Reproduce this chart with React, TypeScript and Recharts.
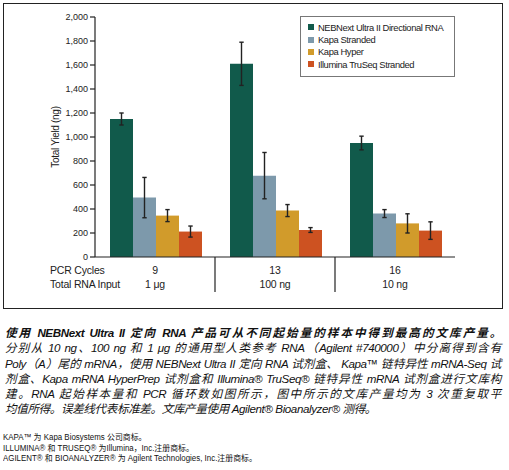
import React from "react";
import { Bar, BarChart, ErrorBar, XAxis, YAxis } from "recharts";

const cycles = ["9", "13", "16"];
const rnaInput = ["1 μg", "100 ng", "10 ng"];

const nebnext = [1150, 1610, 950];
const nebnextErr = [50, 180, 57];
const kapaStranded = [495, 678, 362];
const kapaStrandedErr = [168, 193, 33];
const kapaHyper = [345, 387, 280];
const kapaHyperErr = [50, 50, 80];
const truseq = [212, 225, 220];
const truseqErr = [46, 20, 73];

const yTicks = [0, 200, 400, 600, 800, 1000, 1200, 1400, 1600, 1800, 2000];

const seriesNames = [
  "NEBNext Ultra II Directional RNA",
  "Kapa Stranded",
  "Kapa Hyper",
  "Illumina TruSeq Stranded",
];
const colors = ["#115a4b", "#7d99ab", "#d19b2b", "#cd5221"];

const data = cycles.map((c, i) => ({
  cycles: c,
  input: rnaInput[i],
  nebnext: nebnext[i],
  nebnextErr: nebnextErr[i],
  kapaStranded: kapaStranded[i],
  kapaStrandedErr: kapaStrandedErr[i],
  kapaHyper: kapaHyper[i],
  kapaHyperErr: kapaHyperErr[i],
  truseq: truseq[i],
  truseqErr: truseqErr[i],
}));

const keys = ["nebnext", "kapaStranded", "kapaHyper", "truseq"];

const SANS = "'Liberation Sans', Arial, sans-serif";
const CJK = "'Liberation Sans', 'Noto Sans CJK SC', sans-serif";

// layout of the plot area
const PLOT_LEFT = 95;
const PLOT_RIGHT = 455;
const AXIS_Y = 257;
const BAND = (PLOT_RIGHT - PLOT_LEFT) / cycles.length;

function CategoryTick(props: any) {
  const { x, index } = props;
  const row = data[index];
  return (
    <g fontFamily={SANS} fontSize={10.5} fill="#222" letterSpacing={-0.2}>
      {index === 0 && (
        <>
          <text x={50} y={274} textAnchor="start">PCR Cycles</text>
          <text x={50} y={288} textAnchor="start">Total RNA Input</text>
        </>
      )}
      {index > 0 && (
        <line x1={x - BAND / 2} x2={x - BAND / 2} y1={AXIS_Y} y2={292} stroke="#222" strokeWidth={1.2} />
      )}
      <text x={x} y={274} textAnchor="middle">{row.cycles}</text>
      <text x={x} y={288} textAnchor="middle">{row.input}</text>
    </g>
  );
}

function LegendBox() {
  return (
    <div
      style={{
        position: "absolute",
        left: 300,
        top: 16,
        border: "1.5px solid #777",
        boxSizing: "border-box",
        width: 155,
        height: 61,
        padding: "4px 0 0 7px",
        fontFamily: SANS,
        fontSize: 9.4,
        letterSpacing: -0.4,
        color: "#222",
        background: "#fff",
        whiteSpace: "nowrap",
      }}
    >
      {seriesNames.map((n, i) => (
        <div key={n} style={{ display: "flex", alignItems: "center", height: 12.4 }}>
          <span style={{ width: 6, height: 6, background: colors[i], marginRight: 4, display: "inline-block" }} />
          <span>{n}</span>
        </div>
      ))}
    </div>
  );
}

const captionLines = [
  "分别从 10 ng、100 ng 和 1 μg 的通用型人类参考 RNA（Agilent #740000）中分离得到含有",
  "Poly（A）尾的 mRNA，使用 NEBNext Ultra II 定向 RNA 试剂盒、 Kapa™ 链特异性 mRNA-Seq 试",
  "剂盒、Kapa mRNA HyperPrep 试剂盒和 Illumina® TruSeq® 链特异性 mRNA 试剂盒进行文库构",
  "建。RNA 起始样本量和 PCR 循环数如图所示，图中所示的文库产量均为 3 次重复取平",
];
const captionLast = "均值所得。误差线代表标准差。文库产量使用 Agilent® Bioanalyzer® 测得。";
const footnotes = [
  "KAPA™ 为 Kapa Biosystems 公司商标。",
  "ILLUMINA® 和 TRUSEQ® 为Illumina，Inc.注册商标。",
  "AGILENT® 和 BIOANALYZER® 为 Agilent Technologies, Inc.注册商标。",
];

const justified: React.CSSProperties = {
  textAlign: "justify",
  textAlignLast: "justify",
  whiteSpace: "nowrap",
  height: 15.3,
};

export default function App() {
  return (
    <div style={{ position: "absolute", left: 0, top: 0, width: 509, height: 470, background: "#fff" }}>
      <div
        style={{
          position: "absolute",
          left: 3,
          top: 3,
          width: 500,
          height: 306,
          border: "1.5px solid #222",
          boxSizing: "border-box",
        }}
      />
      <div style={{ position: "absolute", left: 0, top: 0 }}>
        <BarChart
          width={509}
          height={310}
          data={data}
          margin={{ top: 17, right: 509 - PLOT_RIGHT, bottom: 13, left: PLOT_LEFT - 50 }}
          barCategoryGap="12.5%"
          barGap={0}
        >
          <XAxis
            dataKey="cycles"
            height={40}
            tickLine={false}
            axisLine={{ stroke: "#222", strokeWidth: 1.2 }}
            tick={<CategoryTick />}
            interval={0}
          />
          <YAxis
            width={50}
            domain={[0, 2000]}
            ticks={yTicks}
            interval={0}
            tickSize={5}
            tickLine={{ stroke: "#222", strokeWidth: 1.2 }}
            axisLine={{ stroke: "#222", strokeWidth: 1.2 }}
            tickFormatter={(v: number) => v.toLocaleString("en-US")}
            tick={{ fontFamily: SANS, fontSize: 9, fill: "#222" }}
            label={{
              value: "Total Yield (ng)",
              angle: -90,
              position: "insideLeft",
              offset: 10,
              style: { fontFamily: SANS, fontSize: 10, letterSpacing: -0.3, fill: "#222", textAnchor: "middle" },
            }}
          />
          {keys.map((k, i) => (
            <Bar key={k} dataKey={k} name={seriesNames[i]} fill={colors[i]} isAnimationActive={false}>
              <ErrorBar dataKey={`${k}Err`} width={2.2} stroke="#222" strokeWidth={1.4} />
            </Bar>
          ))}
        </BarChart>
      </div>
      <LegendBox />
      <div
        style={{
          position: "absolute",
          left: 5,
          top: 325,
          width: 496,
          fontFamily: CJK,
          fontSize: 11.6,
          letterSpacing: -0.4,
          fontStyle: "italic",
          color: "#111",
          lineHeight: "15.3px",
        }}
      >
        <div style={{ ...justified, fontWeight: "bold" }}>
          使用 NEBNext Ultra II 定向 RNA 产品可从不同起始量的样本中得到最高的文库产量。
        </div>
        {captionLines.map((l) => (
          <div key={l} style={justified}>
            {l}
          </div>
        ))}
        <div style={{ whiteSpace: "nowrap", height: 15.3 }}>{captionLast}</div>
      </div>
      <div
        style={{
          position: "absolute",
          left: 3,
          top: 432,
          fontFamily: CJK,
          fontSize: 8.5,
          color: "#111",
          lineHeight: "10.5px",
          whiteSpace: "nowrap",
          transform: "scaleX(0.93)",
          transformOrigin: "left top",
        }}
      >
        {footnotes.map((f) => (
          <div key={f} style={{ height: 10.5 }}>{f}</div>
        ))}
      </div>
    </div>
  );
}
